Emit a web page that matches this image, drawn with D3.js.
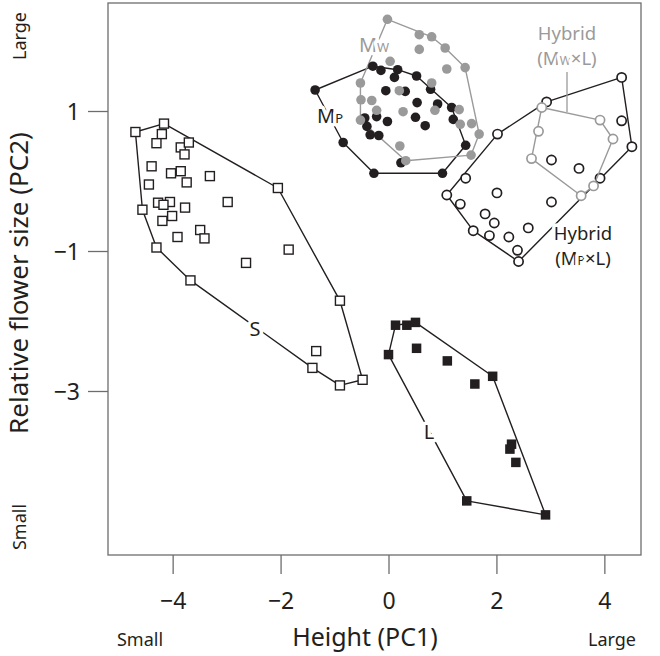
<!DOCTYPE html>
<html><head><meta charset="utf-8">
<script src="https://cdn.jsdelivr.net/npm/d3@7"></script>
<style>
body{margin:0;background:#fff;}
svg{display:block;font-family:"Noto Sans","Open Sans",sans-serif;}
</style></head>
<body><svg id="c" width="660" height="656"></svg>
<script>
// ---- data (PC1, PC2) ----
const mwPoints = [[-0.02,2.31],[0.57,2.09],[0.80,2.06],[1.05,1.90],[0.57,1.88],[1.42,1.62],[1.08,1.60],[0.03,1.71],[-0.52,1.40],[0.20,1.29],[0.80,1.40],[-0.51,1.16],[-0.31,1.15],[-0.22,1.01],[0.27,0.99],[0.86,1.01],[1.31,1.02],[1.33,0.81],[1.54,0.82],[1.68,0.67],[-0.52,0.87],[0.21,0.50],[1.53,0.37],[0.32,0.29]];
const mpPoints = [[-1.36,1.30],[-0.29,1.64],[-0.14,1.58],[0.17,1.59],[0.11,1.48],[0.52,1.50],[0.78,1.31],[-0.05,1.29],[0.31,1.28],[0.53,1.12],[0.91,1.10],[1.17,1.05],[-0.44,0.90],[-0.22,0.92],[-0.02,0.85],[0.50,0.91],[0.68,0.79],[1.20,0.88],[-0.40,0.78],[-0.34,0.66],[-0.18,0.65],[-0.84,0.55],[1.43,0.51],[0.23,0.26],[-0.27,0.11],[1.00,0.11]];
const hybMpLPoints = [[4.32,1.48],[2.93,1.13],[4.32,0.86],[4.51,0.49],[3.92,0.04],[3.02,0.30],[3.53,0.18],[2.02,0.67],[1.43,0.04],[1.08,-0.20],[2.01,-0.17],[3.02,-0.30],[1.33,-0.33],[1.79,-0.47],[1.96,-0.60],[2.59,-0.67],[1.57,-0.71],[1.87,-0.78],[2.23,-0.80],[2.39,-0.99],[2.41,-1.15]];
const hybMwLPoints = [[2.84,1.05],[3.92,0.87],[4.16,0.60],[2.78,0.71],[2.65,0.32],[3.80,-0.07],[3.57,-0.21]];
const sPoints = [[-4.69,0.70],[-4.16,0.82],[-4.20,0.67],[-4.30,0.54],[-3.85,0.48],[-3.70,0.55],[-3.78,0.38],[-4.39,0.21],[-4.03,0.11],[-3.85,0.14],[-3.74,-0.02],[-3.31,0.07],[-4.44,-0.05],[-4.27,-0.31],[-4.05,-0.30],[-4.17,-0.34],[-4.01,-0.50],[-4.19,-0.57],[-3.77,-0.38],[-2.98,-0.30],[-4.56,-0.41],[-3.91,-0.80],[-3.49,-0.70],[-3.41,-0.82],[-2.05,-0.10],[-1.85,-0.98],[-2.64,-1.17],[-4.30,-0.95],[-3.67,-1.42],[-0.90,-1.71],[-1.34,-2.43],[-1.41,-2.67],[-0.90,-2.92],[-0.48,-2.84]];
const lPoints = [[0.13,-2.06],[0.34,-2.06],[0.50,-2.02],[0.00,-2.48],[0.52,-2.39],[1.09,-2.57],[1.93,-2.79],[1.60,-2.90],[2.28,-3.76],[2.25,-3.83],[2.36,-4.02],[1.45,-4.57],[2.91,-4.77]];
const xTicks = [-4,-2,0,2,4];
const yTicks = [1,-1,-3];
const xDomain = [-5.198, 4.679];
const yDomain = [-5.343, 2.543];

const svg = d3.select("#c");
const black = "#231f20", gray = "#9a9a9a", frame = "#6d6d6d";
const x = d3.scaleLinear().domain(xDomain).range([108, 641]);
const y = d3.scaleLinear().domain(yDomain).range([555, 3]);

// frame
svg.append("rect").attr("x",108).attr("y",3).attr("width",533).attr("height",552)
  .attr("fill","none").attr("stroke",frame).attr("stroke-width",1.3);

// axes
const ax = svg.append("g").attr("transform","translate(0,555)")
  .call(d3.axisBottom(x).tickValues(xTicks).tickSize(19).tickPadding(19));
const ay = svg.append("g").attr("transform","translate(108,0)")
  .call(d3.axisLeft(y).tickValues(yTicks).tickSize(20).tickPadding(8));
[ax, ay].forEach(g => {
  g.select(".domain").remove();
  g.selectAll(".tick line").attr("stroke",frame).attr("stroke-width",1.3);
  g.selectAll(".tick text").attr("fill",black).attr("font-size",23).attr("font-family","Noto Sans");
});
ay.selectAll(".tick text").attr("dy","0.35em");

const line = d3.line().x(d=>x(d[0])).y(d=>y(d[1]));
function hull(pts, color){
  const h = d3.polygonHull(pts);
  svg.append("path").attr("d", line(h) + "Z").attr("fill","none")
    .attr("stroke",color).attr("stroke-width",1.4).attr("stroke-linejoin","round");
}
function circles(pts, fill, stroke){
  svg.append("g").selectAll("circle").data(pts).join("circle")
    .attr("cx",d=>x(d[0])).attr("cy",d=>y(d[1])).attr("r", fill==="#fff"?4.6:4.8)
    .attr("fill",fill).attr("stroke",stroke).attr("stroke-width",fill==="#fff"?1.7:0);
}
function squares(pts, fill){
  const s = fill==="#fff"?9:9.5;
  svg.append("g").selectAll("rect").data(pts).join("rect")
    .attr("x",d=>x(d[0])-s/2).attr("y",d=>y(d[1])-s/2).attr("width",s).attr("height",s)
    .attr("fill",fill).attr("stroke",black).attr("stroke-width",fill==="#fff"?1.4:0);
}

hull(sPoints, black); squares(sPoints, "#fff");
hull(lPoints, black); squares(lPoints, black);
hull(mpPoints, black);
hull(mwPoints, gray);
circles(mpPoints, black, black);
circles(mwPoints, gray, gray);
hull(hybMpLPoints, black);
circles(hybMpLPoints, "#fff", black);
hull(hybMwLPoints, gray);
// pointer line for Hybrid (Mw×L)
svg.append("line").attr("x1",567).attr("x2",567).attr("y1",72).attr("y2",112)
  .attr("stroke",gray).attr("stroke-width",1.3);
circles(hybMwLPoints, "#fff", gray);

// labels with halo
function label(xx, yy, size, color){
  return svg.append("text").attr("x",xx).attr("y",yy).attr("font-size",size)
    .attr("fill",color).attr("text-anchor","middle").attr("font-family","Noto Sans")
    .attr("stroke","#fff").attr("stroke-width",7).attr("paint-order","stroke")
    .attr("stroke-linejoin","round");
}
function mlabel(pre, sub, post, xx, yy, color, size){
  const t = label(xx, yy, size, color);
  t.append("tspan").text(pre);
  t.append("tspan").attr("font-size",size*0.65).text(sub);
  if (post) t.append("tspan").text(post);
}
mlabel("M","W","",374,52,gray,20);
mlabel("M","P","",330,123,black,20);
label(255,336,20,black).text("S");
label(429,439,20,black).text("L");
label(567,40,18.5,gray).text("Hybrid");
mlabel("(M","W","×L)",567,65,gray,18.5);
label(583,240,18.5,black).text("Hybrid");
mlabel("(M","P","×L)",583,265,black,18.5);

// axis titles
svg.append("text").attr("x",365).attr("y",646).attr("text-anchor","middle")
  .attr("font-size",25).attr("fill",black).text("Height (PC1)");
svg.append("text").attr("x",140).attr("y",646).attr("text-anchor","middle")
  .attr("font-size",18).attr("fill",black).text("Small");
svg.append("text").attr("x",612).attr("y",646).attr("text-anchor","middle")
  .attr("font-size",18).attr("fill",black).text("Large");
svg.append("text").attr("transform","translate(28,283) rotate(-90)").attr("text-anchor","middle")
  .attr("font-size",26).attr("fill",black).text("Relative flower size (PC2)");
svg.append("text").attr("transform","translate(26,36) rotate(-90)").attr("text-anchor","middle")
  .attr("font-size",18).attr("fill",black).text("Large");
svg.append("text").attr("transform","translate(26,527) rotate(-90)").attr("text-anchor","middle")
  .attr("font-size",18).attr("fill",black).text("Small");
</script></body></html>
